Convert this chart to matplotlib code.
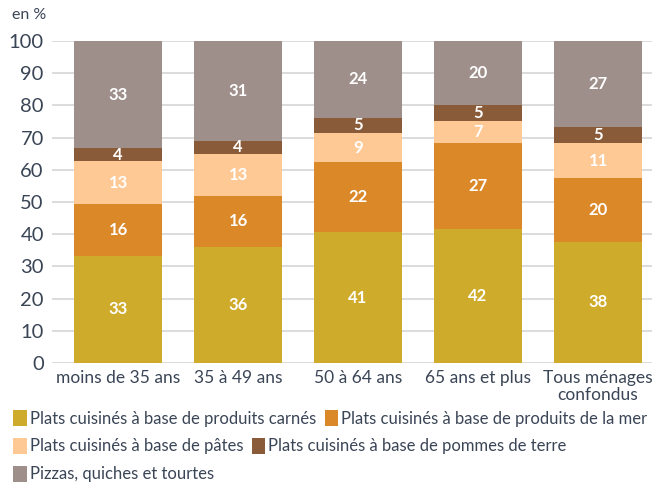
import numpy as np
import matplotlib.pyplot as plt
from matplotlib.patches import Patch

categories = ["moins de 35 ans", "35 à 49 ans", "50 à 64 ans", "65 ans et plus", "Tous ménages\nconfondus"]
carnes = [33, 36, 41, 42, 38]
mer = [16, 16, 22, 27, 20]
pates = [13, 13, 9, 7, 11]
pommes = [4, 4, 5, 5, 5]
pizzas = [33, 31, 24, 20, 27]

series_names = ["Plats cuisinés à base de produits carnés",
                "Plats cuisinés à base de produits de la mer",
                "Plats cuisinés à base de pâtes",
                "Plats cuisinés à base de pommes de terre",
                "Pizzas, quiches et tourtes"]
colors = ["#cfab2b", "#db8829", "#fec995", "#8a5b39", "#9e8f8b"]

plt.rcParams['font.family'] = ['Lato', 'DejaVu Sans']
txt_color = "#3a4556"

data = np.array([carnes, mer, pates, pommes, pizzas], dtype=float)
# bars are shown as shares that fill up to 100
shares = data / data.sum(axis=0) * 100

fig = plt.figure(figsize=(6.52, 4.88), dpi=100)
ax = fig.add_axes([0.08, 0.256, 0.92, 0.66])

x = np.arange(len(categories))
bottom = np.zeros(len(categories))
for vals, shown, col, name in zip(data, shares, colors, series_names):
    ax.bar(x, shown, 0.73, bottom=bottom, color=col, label=name, zorder=2)
    for xi, b, h, v in zip(x, bottom, shown, vals):
        ax.text(xi, b + h / 2, "%d" % v, ha='center', va='center', color='white',
                fontsize=12, fontweight='bold', zorder=3)
    bottom += shown

ax.set_xlim(-0.55, 4.45)
ax.set_ylim(0, 100)
ax.set_yticks(range(0, 101, 10))
ax.yaxis.grid(True, color='#d9d9d9', linewidth=1.3, zorder=0)
ax.set_axisbelow(True)
for s in ax.spines.values():
    s.set_visible(False)
ax.tick_params(axis='both', length=0, colors=txt_color)
ax.tick_params(axis='y', labelsize=14.5, pad=6)
ax.tick_params(axis='x', labelsize=12.5, pad=5)
ax.set_xticks(x)
ax.set_xticklabels(categories, linespacing=1.1)
fig.text(0.018, 0.969, "en %", fontsize=11.5, color=txt_color, va='center')

handles = [Patch(facecolor=c) for c in colors]
rows = [(0, 2, 0.143), (2, 4, 0.086), (4, 5, 0.029)]
for i0, i1, yy in rows:
    leg = fig.legend(handles[i0:i1], series_names[i0:i1], loc='center left',
                     bbox_to_anchor=(0.005, yy), ncol=i1 - i0, frameon=False,
                     fontsize=12, handlelength=0.8, handleheight=1.1,
                     handletextpad=0.2, columnspacing=0.5, borderpad=0.1)
    for t in leg.get_texts():
        t.set_color(txt_color)

fig.savefig("out.png", dpi=100)
